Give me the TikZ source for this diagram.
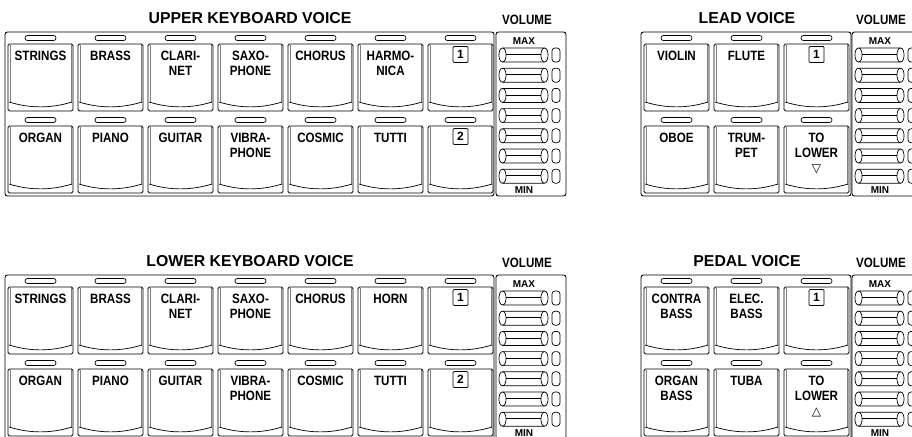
\documentclass[tikz,border=0pt]{standalone}
\usepackage{fontspec}
\setmainfont{Liberation Sans}
\newfontfamily\narrowfont{Liberation Sans}[FakeStretch=0.86]
\newfontfamily\symfont{DejaVu Sans}

\tikzset{
  panel/.style = {draw, line width=0.9pt, rounded corners=2.5pt},
  btn/.style = {draw, line width=0.9pt, rounded corners=1.5pt},
  lamp/.style = {draw, line width=0.7pt, rounded corners=2.4pt},
  btnlabel/.style = {font=\narrowfont\bfseries\fontsize{13.5}{15}\selectfont,
    align=center, inner sep=0pt, anchor=north},
  numbox/.style = {draw, line width=0.7pt, rounded corners=1pt, minimum width=15pt,
    minimum height=16pt, inner sep=0pt, font=\bfseries\fontsize{12}{14}\selectfont},
  title/.style = {font=\bfseries\fontsize{15.8}{18}\selectfont, inner sep=0pt},
  voltitle/.style = {font=\narrowfont\bfseries\fontsize{13.5}{15}\selectfont, inner sep=0pt},
  scalemark/.style = {font=\bfseries\fontsize{10}{12}\selectfont, inner sep=0pt},
  keycap/.pic = {
    \draw[lamp] (17,-8.5) rectangle (48,-3.5);
    \draw[btn] (0,0) rectangle (65,67);
    \draw[gray, line width=0.5pt] (2.2,1) -- (2.2,58.5) (62.8,1) -- (62.8,58.5);
    \draw[line width=0.7pt] (1,58) .. controls (22,64.5) and (43,64.5) .. (64,58);
  },
  voicebtn/.pic = {
    \pic {keycap};
    \node[btnlabel] (-lbl) at (32.5,7) {#1};
  },
  numbtn/.pic = {
    \pic {keycap};
    \node[numbox] (-num) at (32.5,10.5) {#1};
  },
  slider/.pic = {
    \draw[line width=0.7pt] (3.5,-7) -- (45.5,-7) .. controls (50.2,-7) and (50.2,7) .. (45.5,7)
      -- (3.5,7) .. controls (-1.2,7) and (-1.2,-7) .. (3.5,-7);
    \draw[line width=0.7pt] (3.5,-7) .. controls (8.2,-7) and (8.2,7) .. (3.5,7);
    \draw[line width=0.7pt] (45.5,-7) .. controls (40.8,-7) and (40.8,7) .. (45.5,7);
    \draw[line width=0.7pt] (7,-0.5) -- (42,-0.5);
    \draw[lamp, rounded corners=3pt] (53,-7) rectangle (61,7);
  },
  volpanel/.pic = {
    \draw[panel] (0,0) rectangle (70,164);
    \node[scalemark] (-max) at (28,9.5) {MAX};
    \foreach \k in {0,...,6}
      \pic at (3,23+20.2*\k) {slider};
    \node[scalemark] (-min) at (28,158.5) {MIN};
  }
}

\begin{document}
\begin{tikzpicture}[x=1pt, y=-1pt, line join=round]
  \useasboundingbox (0,0) rectangle (912,436);
  \clip (0,0) rectangle (912,436);
  \fill[white] (0,0) rectangle (912,436);
  % upper keyboard voice
  \node[title] (uptitle) at (250,18) {UPPER KEYBOARD VOICE};
  \node[voltitle] (upvoltitle) at (527,20) {VOLUME};
  \draw[panel] (5,32) rectangle (494,196);
  \foreach \v [count=\i from 0] in {STRINGS,BRASS,{CLARI-\\NET},{SAXO-\\PHONE},CHORUS,{HARMO-\\NICA}}
    \pic (upa\i) at (8+70*\i,44) {voicebtn=\v};
  \pic (upa6) at (428,44) {numbtn=1};
  \foreach \v [count=\i from 0] in {ORGAN,PIANO,GUITAR,{VIBRA-\\PHONE},COSMIC,TUTTI}
    \pic (upb\i) at (8+70*\i,126) {voicebtn=\v};
  \pic (upb6) at (428,126) {numbtn=2};
  \pic (upvol) at (496,32) {volpanel};
  % lead voice
  \node[title] (leadtitle) at (747,18) {LEAD VOICE};
  \node[voltitle] (leadvoltitle) at (881,20) {VOLUME};
  \draw[panel] (641,32) rectangle (851,196);
  \foreach \v [count=\i from 0] in {VIOLIN,FLUTE}
    \pic (leada\i) at (644+70*\i,44) {voicebtn=\v};
  \pic (leada2) at (784,44) {numbtn=1};
  \foreach \v [count=\i from 0] in {OBOE,{TRUM-\\PET},{TO\\LOWER\\{\symfont\fontsize{12}{13}\selectfont ▽}}}
    \pic (leadb\i) at (644+70*\i,126) {voicebtn=\v};
  \pic (leadvol) at (852,32) {volpanel};
  \begin{scope}[shift={(0,243)}]
    % lower keyboard voice
    \node[title] (lotitle) at (250,18) {LOWER KEYBOARD VOICE};
    \node[voltitle] (lovoltitle) at (527,20) {VOLUME};
    \draw[panel] (5,32) rectangle (494,196);
    \foreach \v [count=\i from 0] in {STRINGS,BRASS,{CLARI-\\NET},{SAXO-\\PHONE},CHORUS,HORN}
      \pic (loa\i) at (8+70*\i,44) {voicebtn=\v};
    \pic (loa6) at (428,44) {numbtn=1};
    \foreach \v [count=\i from 0] in {ORGAN,PIANO,GUITAR,{VIBRA-\\PHONE},COSMIC,TUTTI}
      \pic (lob\i) at (8+70*\i,126) {voicebtn=\v};
    \pic (lob6) at (428,126) {numbtn=2};
    \pic (lovol) at (496,32) {volpanel};
    % pedal voice
    \node[title] (pedtitle) at (747,18) {PEDAL VOICE};
    \node[voltitle] (pedvoltitle) at (881,20) {VOLUME};
    \draw[panel] (641,32) rectangle (851,196);
    \foreach \v [count=\i from 0] in {{CONTRA\\BASS},{ELEC.\\BASS}}
      \pic (peda\i) at (644+70*\i,44) {voicebtn=\v};
    \pic (peda2) at (784,44) {numbtn=1};
    \foreach \v [count=\i from 0] in {{ORGAN\\BASS},TUBA,{TO\\LOWER\\{\symfont\fontsize{12}{13}\selectfont △}}}
      \pic (pedb\i) at (644+70*\i,126) {voicebtn=\v};
    \pic (pedvol) at (852,32) {volpanel};
  \end{scope}
\end{tikzpicture}
\end{document}
